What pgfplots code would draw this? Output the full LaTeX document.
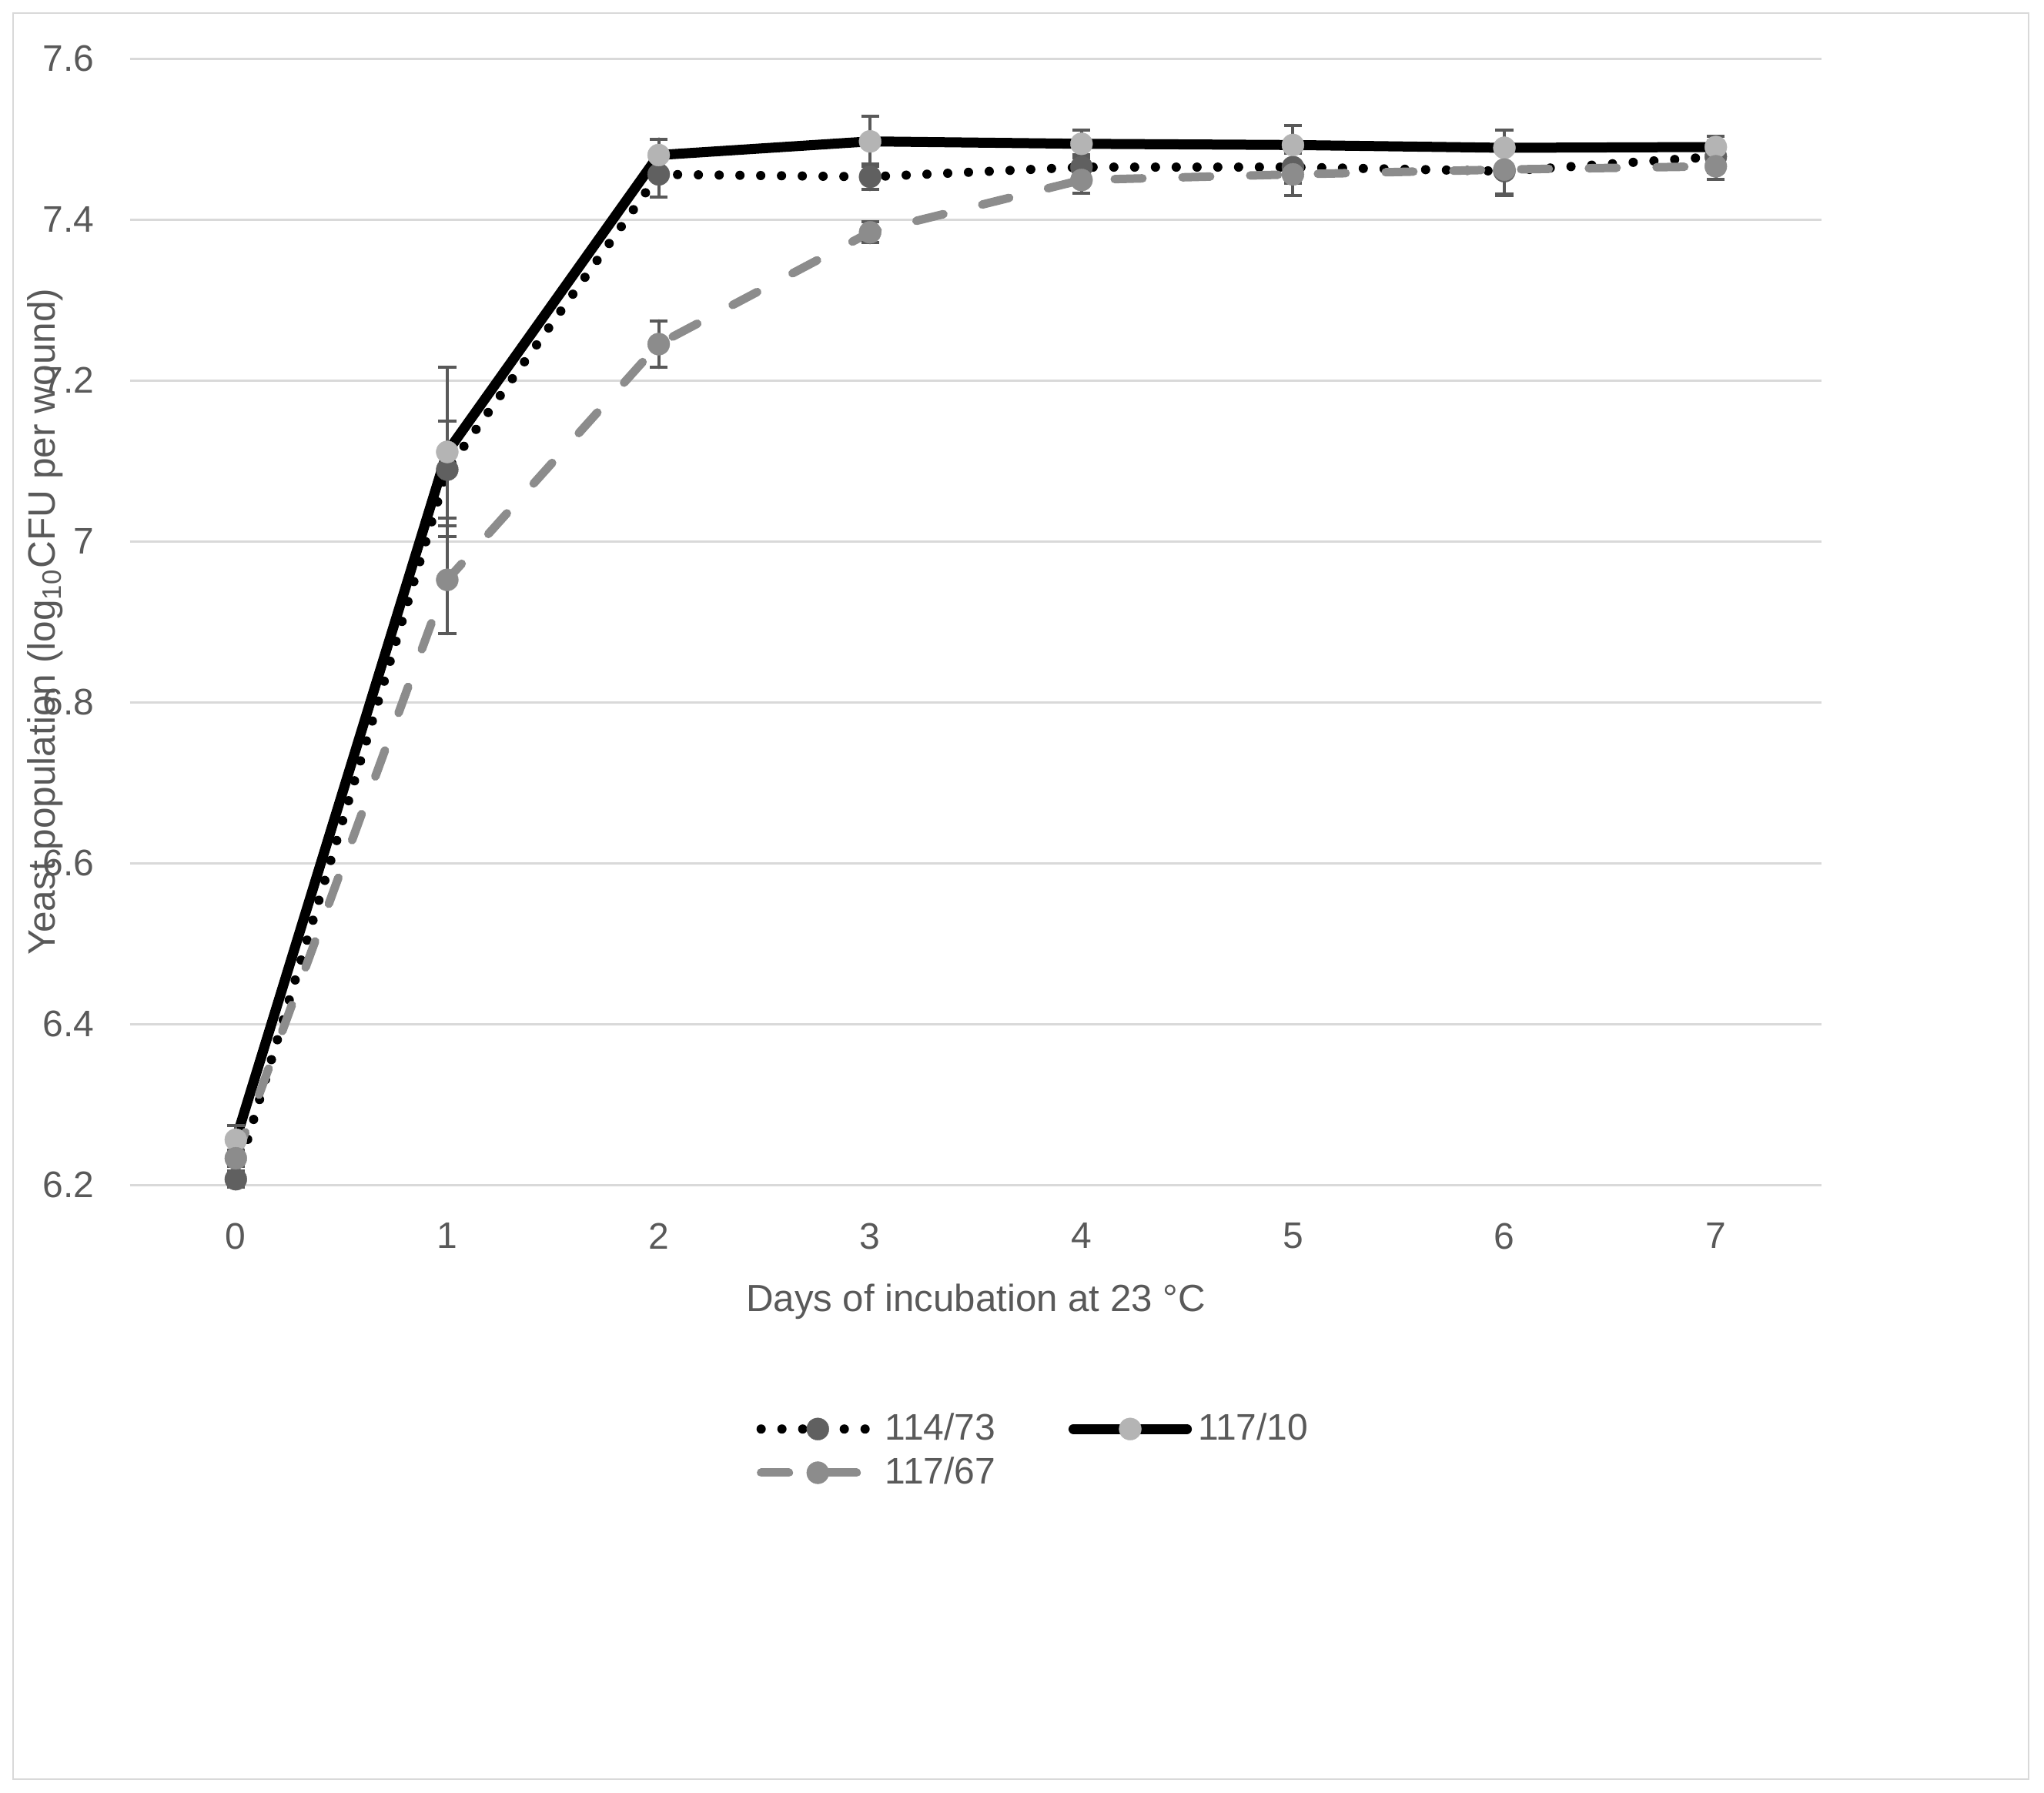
\documentclass[border=0pt]{standalone}
\usepackage{fontspec}
\setmainfont{Liberation Sans}
\usepackage{pgfplots}
\pgfplotsset{compat=1.18}
\definecolor{txt}{HTML}{595959}
\definecolor{gridc}{HTML}{D9D9D9}
\definecolor{cA}{HTML}{606060}
\definecolor{cB}{HTML}{B4B4B4}
\definecolor{cC}{HTML}{8C8C8C}
\definecolor{errc}{HTML}{595959}
\begin{document}
\begin{tikzpicture}
\useasboundingbox (-42.25pt,-197.25pt) rectangle (621.5pt,384.75pt);
\draw[gridc, line width=0.6pt] (-38pt,-193pt) rectangle (616.5pt,380.5pt);
\begin{axis}[
  at={(0pt,0pt)}, anchor=south west,
  scale only axis, width=549.25pt, height=365.75pt,
  xmin=-0.5, xmax=7.5, ymin=6.2, ymax=7.6,
  xtick={0,1,2,3,4,5,6,7},
  ytick={6.2,6.4,6.6,6.8,7,7.2,7.4,7.6},
  axis line style={draw=none}, major tick length=0pt,
  ymajorgrids, grid style={gridc, line width=0.75pt},
  tick label style={font=\fontsize{12}{14}\selectfont, text=txt},
  /pgf/number format/assume math mode=true,
  yticklabel style={anchor=east, inner sep=0pt, xshift=-11.5pt},
  xticklabel style={anchor=north, inner sep=0pt, yshift=-12.25pt},
  xlabel={Days of incubation at 23 °C},
  xlabel style={at={(axis description cs:0.5,0)}, anchor=north, inner sep=0pt, yshift=-32pt, font=\fontsize{12.3}{14}\selectfont, text=txt},
  ylabel={Yeast population (log\textsubscript{10}CFU per wound)},
  ylabel style={at={(axis description cs:-0.0501,0.5)}, anchor=center, inner sep=0pt, font=\fontsize{12.4}{14}\selectfont, text=txt},
  clip=false,
  legend columns=2, legend cell align=left,
  legend style={draw=none, fill=none, at={(axis description cs:0.37,0)}, anchor=north west, yshift=-72pt, inner sep=0pt, font=\fontsize{12}{14}\selectfont, text=txt, /tikz/every even column/.append style={column sep=21.7pt}},
  legend image code/.code={\draw[#1, mark repeat=2, mark phase=2] plot coordinates {(0pt,0pt) (18.4pt,0pt) (36.8pt,0pt)};},
]
\addplot[black, line width=3pt, dash pattern=on 0pt off 6.75pt, line cap=round, line join=round,
  mark=*, mark size=3.6pt, mark options={solid, fill=cA, draw=cA, line width=0.1pt},
  error bars/.cd, y dir=both, y explicit,
  error bar style={errc, line width=1pt, solid},
  error mark options={errc, mark size=2.9pt, line width=1pt, solid, rotate=90}]
coordinates {
(0,6.207) +- (0,0.010)
(1,7.089) +- (0,0.060)
(2,7.456) +- (0,0.028)
(3,7.453) +- (0,0.016)
(4,7.465) +- (0,0.015)
(5,7.465) +- (0,0.020)
(6,7.460) +- (0,0.030)
(7,7.478) +- (0,0.020)
};
\addlegendentry{114/73}
\addplot[black, line width=3.25pt, solid, line cap=round, line join=round,
  mark=*, mark size=3.6pt, mark options={solid, fill=cB, draw=cB, line width=0.1pt},
  error bars/.cd, y dir=both, y explicit,
  error bar style={errc, line width=1pt, solid},
  error mark options={errc, mark size=2.9pt, line width=1pt, solid, rotate=90}]
coordinates {
(0,6.256) +- (0,0.018)
(1,7.111) +- (0,0.105)
(2,7.480) +- (0,0.020)
(3,7.497) +- (0,0.031)
(4,7.494) +- (0,0.017)
(5,7.4925) +- (0,0.024)
(6,7.489) +- (0,0.022)
(7,7.490) +- (0,0.013)
};
\addlegendentry{117/10}
\addplot[cC, line width=2.75pt, dash pattern=on 9pt off 13pt, line cap=round, line join=round,
  mark=*, mark size=3.6pt, mark options={solid, fill=cC, draw=cC, line width=0.1pt},
  error bars/.cd, y dir=both, y explicit,
  error bar style={errc, line width=1pt, solid},
  error mark options={errc, mark size=2.9pt, line width=1pt, solid, rotate=90}]
coordinates {
(0,6.233) +- (0,0.010)
(1,6.952) +- (0,0.067)
(2,7.245) +- (0,0.029)
(3,7.384) +- (0,0.013)
(4,7.449) +- (0,0.016)
(5,7.456) +- (0,0.026)
(6,7.462) +- (0,0.030)
(7,7.466) +- (0,0.016)
};
\addlegendentry{117/67}
\end{axis}
\end{tikzpicture}
\end{document}
